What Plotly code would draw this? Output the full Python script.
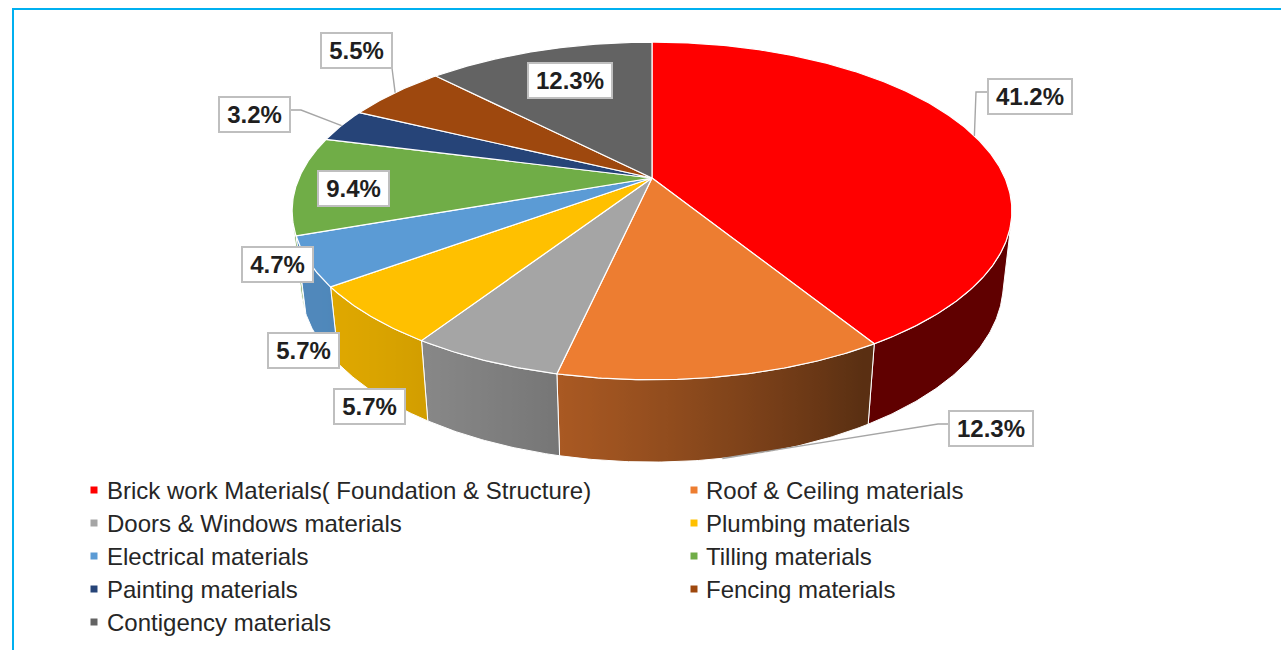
import math
import numpy as np
import plotly.graph_objects as go

# ---- data ----
categories = [
    "Brick work Materials( Foundation & Structure)",
    "Roof & Ceiling materials",
    "Doors & Windows materials",
    "Plumbing materials",
    "Electrical materials",
    "Tilling materials",
    "Painting materials",
    "Fencing materials",
    "Contigency materials",
]
shares = [41.2, 12.3, 5.7, 5.7, 4.7, 9.4, 3.2, 5.5, 12.3]
colors = ["#FF0000", "#ED7D31", "#A5A5A5", "#FFC000", "#5B9BD5",
          "#70AD47", "#264478", "#9E480E", "#636363"]

# ---- layout of the 3-D pie (canvas units = pixels) ----
W, H = 1281, 650
CX, CY = 652.0, 178.0          # where the pie centre lands on the canvas
TILT = math.radians(27.4)      # camera elevation
DIST = 4.55                    # camera distance in pie radii
FOCAL = 1606.0                 # projection scale
THICK = 0.2326                 # pie height in pie radii

# label box centres and leader-line routing (start on box, optional elbow)
label_pos = [(1030, 96.5), (990.5, 428.5), (369, 406.5), (303.5, 350.5),
             (277, 264.5), (353, 188), (254.5, 114.5), (356.5, 50.5), (570, 80)]
leaders = {
    0: dict(path=[(988, 92), (976, 92)], rim="top"),
    1: dict(path=[(948, 424), (938, 424)], rim="bottom"),
    6: dict(path=[(290, 110), (301, 110)], rim="top"),
    7: dict(path=[(392, 68)], rim="top"),
}

LEGEND_ROW0, LEGEND_DY = 490, 33
LEGEND_COLS = [(94, 105), (694, 704)]
FONT = "'Liberation Sans', Arial, sans-serif"


def project(theta, z):
    """Point on the pie rim (angle clockwise from 12 o'clock, height z) -> canvas."""
    X = np.sin(theta)
    Y = np.cos(theta)
    depth = DIST + Y * math.cos(TILT) - z * math.sin(TILT)
    yc = Y * math.sin(TILT) + z * math.cos(TILT)
    return CX + FOCAL * X / depth, CY - FOCAL * yc / depth


def hex_rgb(c):
    c = c.lstrip("#")
    return tuple(int(c[i:i + 2], 16) for i in (0, 2, 4))


def shade(c, theta):
    # side walls are lit from the front-left
    r = 0.38 + 0.5 * max(0.0, math.cos(theta - math.radians(240)))
    R, G, B = hex_rgb(c)
    return f"rgb({int(R * r)},{int(G * r)},{int(B * r)})"


total = sum(shares)
bounds = np.concatenate([[0.0], np.cumsum(shares) / total]) * 2 * math.pi

# front-facing part of the cylinder side
t_edge = math.acos(-1.0 / (DIST * math.cos(TILT)))
vis_lo, vis_hi = t_edge, 2 * math.pi - t_edge

fig = go.Figure()

# side walls
for i, col in enumerate(colors):
    lo = max(bounds[i], vis_lo)
    hi = min(bounds[i + 1], vis_hi)
    if lo >= hi:
        continue
    n = max(3, int(math.degrees(hi - lo)) * 2 + 2)
    th = np.linspace(lo, hi, n)
    tx, ty = project(th, 0.0)
    bx, by = project(th[::-1], -THICK)
    xs = np.concatenate([tx, bx, tx[:1]])
    ys = np.concatenate([ty, by, ty[:1]])
    # horizontal gradient following the shading along the wall
    order = np.argsort(tx)
    sx = tx[order]
    st = th[order]
    x0, x1 = float(sx[0]), float(sx[-1])
    stops = []
    last = -1.0
    for xv, tv in zip(sx, st):
        p = (xv - x0) / (x1 - x0) if x1 > x0 else 0.0
        if p <= last:
            continue
        stops.append([p, shade(col, tv)])
        last = p
    stops[0][0] = 0.0
    stops[-1][0] = 1.0
    if len(stops) < 2:
        stops = [[0.0, shade(col, lo)], [1.0, shade(col, hi)]]
    fig.add_trace(go.Scatter(
        x=xs, y=ys, mode="lines", fill="toself",
        fillgradient=dict(type="horizontal", colorscale=stops, start=x0, stop=x1),
        line=dict(color="white", width=1), hoverinfo="skip", showlegend=False))

# top faces
for i, col in enumerate(colors):
    a0, a1 = bounds[i], bounds[i + 1]
    n = max(3, int(math.degrees(a1 - a0)) * 2 + 2)
    th = np.linspace(a0, a1, n)
    px, py = project(th, 0.0)
    xs = np.concatenate([[CX], px, [CX]])
    ys = np.concatenate([[CY], py, [CY]])
    fig.add_trace(go.Scatter(
        x=xs, y=ys, mode="lines", fill="toself", fillcolor=col,
        line=dict(color="white", width=1.2), hoverinfo="skip", showlegend=False))

# leader lines
for i, spec in leaders.items():
    mid = 0.5 * (bounds[i] + bounds[i + 1])
    z = 0.0 if spec["rim"] == "top" else -THICK
    ax, ay = project(mid, z)
    pts = spec["path"] + [(float(ax), float(ay))]
    fig.add_trace(go.Scatter(
        x=[p[0] for p in pts], y=[p[1] for p in pts], mode="lines",
        line=dict(color="#A6A6A6", width=1.4), hoverinfo="skip", showlegend=False))

# data labels
for i, v in enumerate(shares):
    txt = f"{v:.1f}%"
    fig.add_annotation(
        x=label_pos[i][0], y=label_pos[i][1], text=f"<b>{txt}</b>",
        showarrow=False, xanchor="center", yanchor="middle",
        width=82 if len(txt) > 4 else 69, height=33,
        bgcolor="white", bordercolor="#BFBFBF", borderwidth=2, borderpad=0,
        font=dict(family=FONT, size=24, color="#1F1F1F"))

# legend (two columns)
lx, ly, lc = [], [], []
for i, name in enumerate(categories):
    mx, tx0 = LEGEND_COLS[i % 2]
    yy = LEGEND_ROW0 + LEGEND_DY * (i // 2)
    lx.append(mx)
    ly.append(yy)
    lc.append(colors[i])
    fig.add_annotation(
        x=tx0, y=yy, text=name, showarrow=False, xanchor="left", yanchor="middle",
        font=dict(family=FONT, size=24, color="#262626"))
fig.add_trace(go.Scatter(
    x=lx, y=ly, mode="markers",
    marker=dict(symbol="square", size=7, color=lc, line=dict(width=0)),
    hoverinfo="skip", showlegend=False))

# chart frame
fig.add_shape(type="rect", x0=13, y0=9, x1=W + 40, y1=H + 40,
              line=dict(color="#00B0F0", width=2), fillcolor="rgba(0,0,0,0)",
              layer="above")

fig.update_layout(
    width=W, height=H, margin=dict(l=0, r=0, t=0, b=0),
    paper_bgcolor="white", plot_bgcolor="white", showlegend=False,
    xaxis=dict(range=[0, W], visible=False, fixedrange=True),
    yaxis=dict(range=[H, 0], visible=False, fixedrange=True),
)

fig.write_html("out.html")
